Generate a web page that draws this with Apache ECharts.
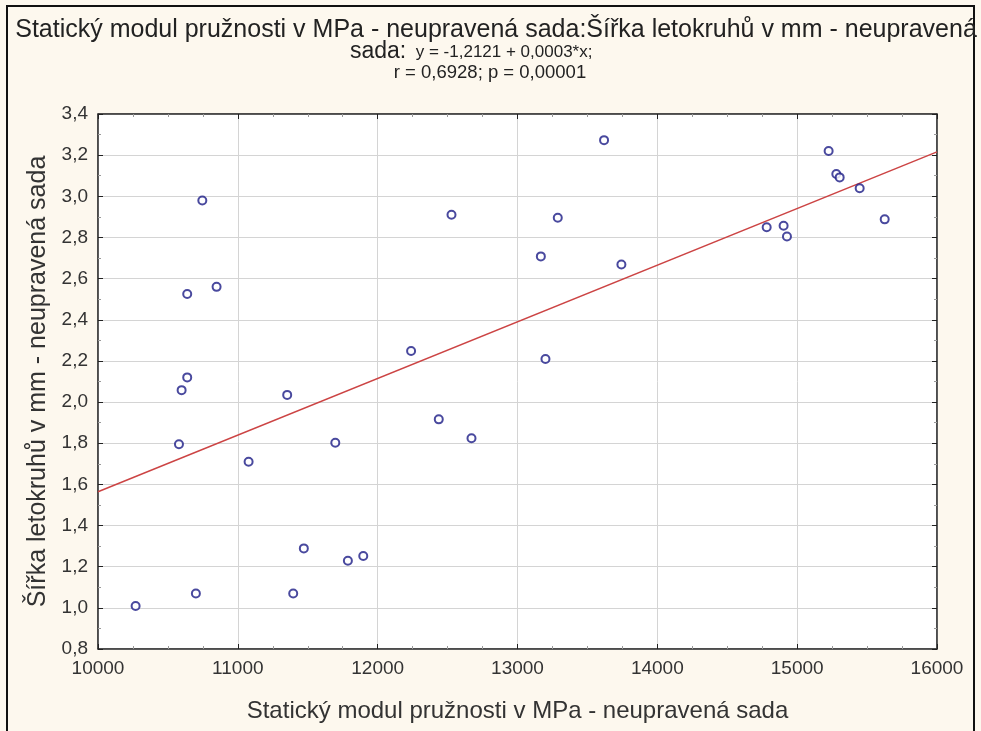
<!DOCTYPE html>
<html>
<head>
<meta charset="utf-8">
<script src="https://cdn.jsdelivr.net/npm/echarts@6/dist/echarts.min.js"></script>
<style>
html,body{margin:0;padding:0;background:#fdf8ee;}
#c{width:981px;height:731px;}
</style>
</head>
<body>
<div id="c"></div>
<script>
// Data
const modulX = [10746, 10638, 10848, 10638, 10598, 11353, 10579, 11077, 11472, 10700, 11396, 10269,
  13619, 12528, 13288, 13167, 13743, 12239, 13200, 11697, 12437, 12671, 11787, 11897,
  15225, 15280, 15304, 15447, 15626, 14782, 14903, 14927];
const sirkaY = [2.98, 2.525, 2.56, 2.12, 2.058, 2.035, 1.795, 1.71, 1.289, 1.07, 1.07, 1.009,
  3.273, 2.91, 2.896, 2.708, 2.669, 2.248, 2.209, 1.802, 1.916, 1.824, 1.229, 1.252,
  3.22, 3.108, 3.092, 3.039, 2.888, 2.85, 2.857, 2.805];
const fitX = [10000, 16000];
const fitY = [1.564, 3.216];
const xTicks = ['10000', '11000', '12000', '13000', '14000', '15000', '16000'];

const titleLine1 = 'Statický modul pružnosti v MPa - neupravená sada:Šířka letokruhů v mm - neupravená';
const titleLine2a = 'sada:';
const titleLine2b = '  y = -1,2121 + 0,0003*x;';
const titleLine3 = 'r = 0,6928; p = 0,00001';
const xName = 'Statický modul pružnosti v MPa - neupravená sada';
const yName = 'Šířka letokruhů v mm - neupravená sada';

const pts = modulX.map((x, i) => [x, sirkaY[i]]);
const fit = fitX.map((x, i) => [x, fitY[i]]);

const chart = echarts.init(document.getElementById('c'), null, {renderer: 'canvas'});
const narrow = '"Liberation Sans Narrow", "Arial Narrow", "Liberation Sans", Arial, sans-serif';
const sans = '"Liberation Sans", Arial, sans-serif';
const tickCommon = {show: true, inside: true, length: 5, lineStyle: {color: '#222', width: 1}};
const minorCommon = {show: true, splitNumber: 4, length: 3, lineStyle: {color: '#999', width: 1}};

chart.setOption({
  backgroundColor: '#fdf8ee',
  animation: false,
  graphic: [
    {type: 'rect', shape: {x: 7, y: 6, width: 967, height: 760}, style: {fill: 'none', stroke: '#111', lineWidth: 2}, silent: true},
    {type: 'text', x: 496, y: 30, style: {text: titleLine1, font: '25px ' + narrow, fill: '#222', align: 'center', verticalAlign: 'middle'}},
    {type: 'text', x: 350, y: 52, style: {
      text: '{a|' + titleLine2a + '}{b|' + titleLine2b + '}',
      align: 'left', verticalAlign: 'middle',
      rich: {a: {font: '23px ' + narrow, fill: '#222'}, b: {font: '17px ' + narrow, fill: '#222'}}
    }},
    {type: 'text', x: 490, y: 73, style: {text: titleLine3, font: '18.5px ' + narrow, fill: '#222', align: 'center', verticalAlign: 'middle'}}
  ],
  grid: {left: 98, top: 114, width: 839, height: 535, show: true, backgroundColor: '#ffffff', borderColor: '#333', borderWidth: 1},
  xAxis: [{
    type: 'value', min: 10000, max: 16000, interval: 1000,
    name: xName, nameLocation: 'middle', nameGap: 50,
    nameTextStyle: {fontFamily: sans, fontSize: 24, color: '#333'},
    axisLine: {show: true, onZero: false, lineStyle: {color: '#333', width: 1.5}},
    axisTick: tickCommon,
    minorTick: minorCommon,
    axisLabel: {fontFamily: sans, fontSize: 19, color: '#333', margin: 10,
      formatter: v => xTicks[Math.round((v - 10000) / 1000)] || ''},
    splitLine: {show: true, lineStyle: {color: '#d4d4d4', width: 1}}
  }, {
    type: 'value', position: 'top', min: 10000, max: 16000, interval: 1000,
    axisLine: {show: true, onZero: false, lineStyle: {color: '#333', width: 1.5}},
    axisTick: tickCommon, minorTick: minorCommon,
    axisLabel: {show: false}, splitLine: {show: false}
  }],
  yAxis: [{
    type: 'value', min: 0.8, max: 3.4, interval: 0.2,
    name: yName, nameLocation: 'middle', nameGap: 46, nameRotate: 90,
    nameTextStyle: {fontFamily: sans, fontSize: 25, color: '#333'},
    axisLine: {show: true, onZero: false, lineStyle: {color: '#333', width: 1.5}},
    axisTick: tickCommon,
    minorTick: {show: true, splitNumber: 2, length: 3, lineStyle: {color: '#999', width: 1}},
    axisLabel: {fontFamily: sans, fontSize: 19, color: '#333', margin: 10,
      formatter: v => v.toFixed(1).replace('.', ',')},
    splitLine: {show: true, lineStyle: {color: '#d4d4d4', width: 1}}
  }, {
    type: 'value', position: 'right', min: 0.8, max: 3.4, interval: 0.2,
    axisLine: {show: true, onZero: false, lineStyle: {color: '#333', width: 1.5}},
    axisTick: tickCommon,
    minorTick: {show: true, splitNumber: 2, length: 3, lineStyle: {color: '#999', width: 1}},
    axisLabel: {show: false}, splitLine: {show: false}
  }],
  series: [{
    type: 'line', data: fit, xAxisIndex: 0, yAxisIndex: 0,
    symbol: 'none', lineStyle: {color: '#cc4444', width: 1.5}, z: 2, silent: true
  }, {
    type: 'scatter', data: pts, xAxisIndex: 0, yAxisIndex: 0,
    symbol: 'emptyCircle', symbolSize: 8,
    itemStyle: {color: '#1b1b86', borderColor: '#1b1b86', borderWidth: 1.6}, z: 3
  }]
});
</script>
</body>
</html>
